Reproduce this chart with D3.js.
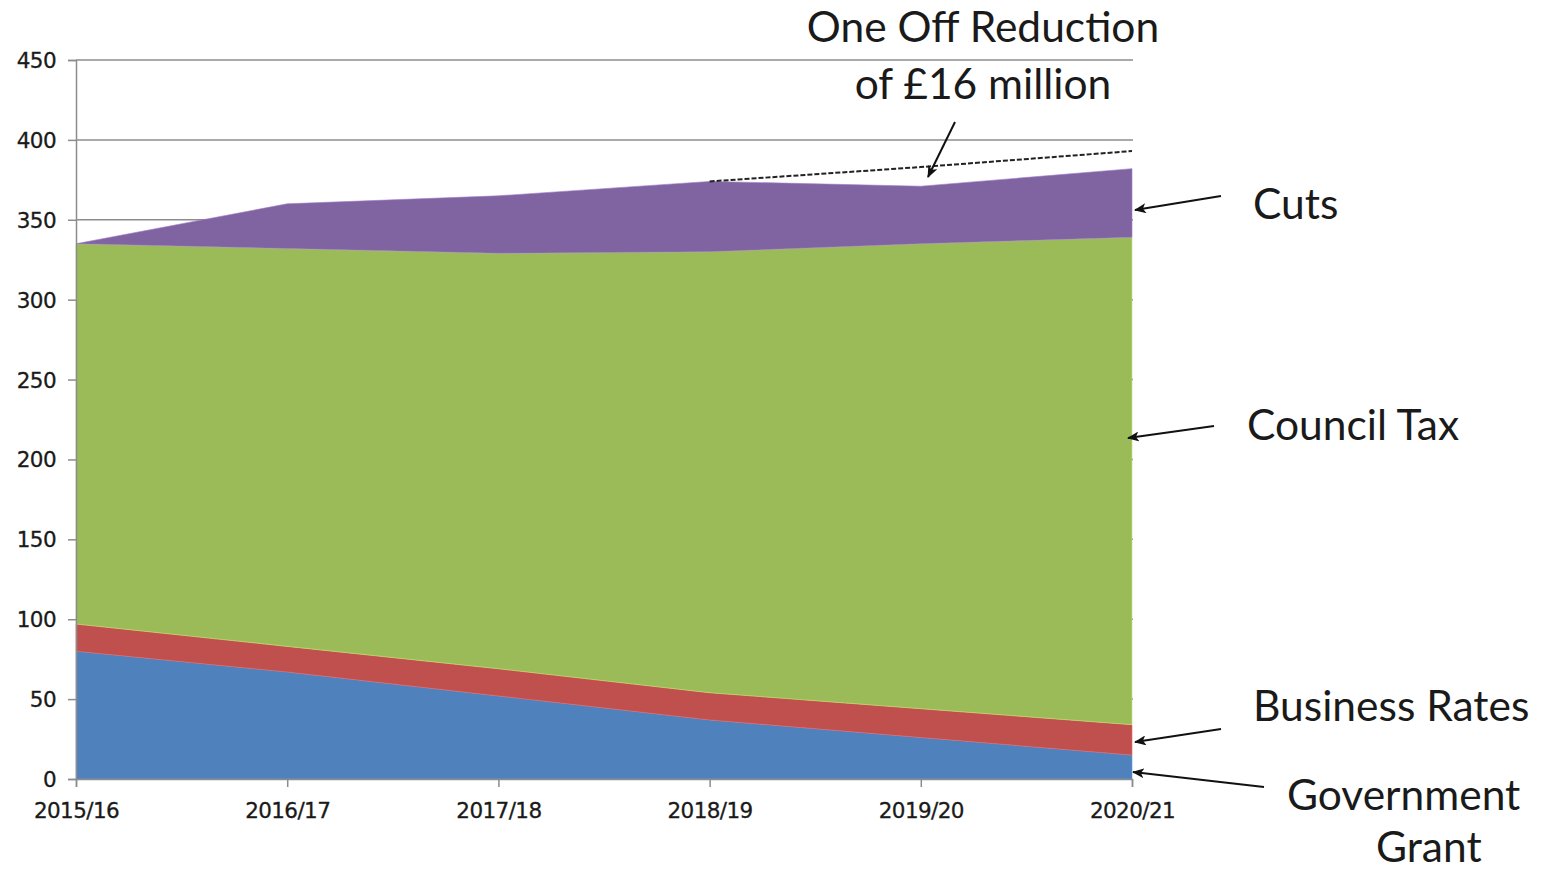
<!DOCTYPE html>
<html><head><meta charset="utf-8">
<script src="https://cdnjs.cloudflare.com/ajax/libs/d3/7.8.5/d3.min.js"></script>
<style>body{margin:0;background:#fff}svg{display:block}</style>
</head><body><svg id="c" width="1545" height="870"></svg>
<script>
const categories = ["2015/16","2016/17","2017/18","2018/19","2019/20","2020/21"];
const governmentGrant = [80, 67, 52, 37, 26, 15];
const businessRates   = [17, 16, 17, 17, 18, 19];
const councilTax      = [238, 249, 260, 276, 291, 305];
const cuts            = [0, 28, 36, 44, 36, 43];
const oneOffCategories = ["2018/19","2019/20","2020/21"];
const oneOffLine = [374, 383, 393];
const yTicks = [0,50,100,150,200,250,300,350,400,450];
const seriesNames = ["Government Grant","Business Rates","Council Tax","Cuts"];
const seriesColors = ["#4F81BD","#C0504D","#9BBB59","#8064A2"];

const svg = d3.select("#c");
const x = d3.scalePoint().domain(categories).range([76,1132]);
const y = d3.scaleLinear().domain([0,450]).range([779,60]);

const rows = categories.map((c,i)=>({cat:c, "Government Grant":governmentGrant[i], "Business Rates":businessRates[i], "Council Tax":councilTax[i], "Cuts":cuts[i]}));
const stack = d3.stack().keys(seriesNames)(rows);

// gridlines
svg.append("g").selectAll("line").data(yTicks.filter(d=>d>0)).join("line")
  .attr("x1",76).attr("x2",1133).attr("y1",d=>y(d)).attr("y2",d=>y(d))
  .attr("stroke","#8c8c8c").attr("stroke-width",1.5);

const area = d3.area().x(d=>x(d.data.cat)).y0(d=>y(d[0])).y1(d=>y(d[1]));
svg.append("g").selectAll("path").data(stack).join("path")
  .attr("d",area).attr("fill",(d,i)=>seriesColors[i])
  .attr("stroke",(d,i)=>d3.color(seriesColors[i]).brighter(0.6)).attr("stroke-width",0.6);

// axes
const yAxis = svg.append("g").attr("transform","translate(76,0)")
  .call(d3.axisLeft(y).tickValues(yTicks).tickSize(8).tickPadding(12));
const xAxis = svg.append("g").attr("transform","translate(0,779)")
  .call(d3.axisBottom(x).tickSize(8).tickPadding(16));
[yAxis,xAxis].forEach(g=>{
  g.select(".domain").attr("stroke","#8c8c8c").attr("stroke-width",1.5);
  g.selectAll(".tick line").attr("stroke","#8c8c8c").attr("stroke-width",1.5);
  g.selectAll("text").attr("font-family","DejaVu Sans, Verdana, sans-serif").attr("font-size",21.5).attr("fill","#1a1a1a").attr("letter-spacing","-0.6")
    .attr("stroke","#1a1a1a").attr("stroke-width",0.3);
});
yAxis.selectAll("text").attr("dy","0.35em");
xAxis.selectAll("text").attr("dy","0.71em");

// dashed one-off line
svg.append("path").datum(oneOffCategories.map((c,i)=>[c,oneOffLine[i]]))
  .attr("d",d3.line().x(d=>x(d[0])).y(d=>y(d[1])))
  .attr("fill","none").attr("stroke","#222").attr("stroke-width",2).attr("stroke-dasharray","5,2");

// arrow marker
const defs = svg.append("defs");
defs.append("marker").attr("id","arr").attr("viewBox","0 0 12 10").attr("refX",11).attr("refY",5)
  .attr("markerWidth",12).attr("markerHeight",10).attr("markerUnits","userSpaceOnUse").attr("orient","auto")
  .append("path").attr("d","M0,0 L12,5 L0,10 L3,5 Z").attr("fill","#111");

const arrows = [
  [955,122,928,177],
  [1221,196,1135,210],
  [1214,426,1128,438],
  [1221,729,1135,742],
  [1264,787,1133,772]
];
svg.append("g").selectAll("line").data(arrows).join("line")
  .attr("x1",d=>d[0]).attr("y1",d=>d[1]).attr("x2",d=>d[2]).attr("y2",d=>d[3])
  .attr("stroke","#111").attr("stroke-width",2).attr("marker-end","url(#arr)");

const labels = [
  {t:"One Off Reduction", x:983, y:42, a:"middle"},
  {t:"of £16 million", x:983, y:99, a:"middle"},
  {t:"Cuts", x:1253, y:219, a:"start"},
  {t:"Council Tax", x:1247, y:440, a:"start"},
  {t:"Business Rates", x:1253, y:721, a:"start"},
  {t:"Government", x:1287, y:810, a:"start"},
  {t:"Grant", x:1376, y:862, a:"start"}
];
svg.append("g").selectAll("text").data(labels).join("text")
  .attr("x",d=>d.x).attr("y",d=>d.y).attr("text-anchor",d=>d.a)
  .attr("font-family","Lato, 'Open Sans', sans-serif").attr("font-size",42.5).attr("fill","#1a1a1a")
  .text(d=>d.t);
</script></body></html>
